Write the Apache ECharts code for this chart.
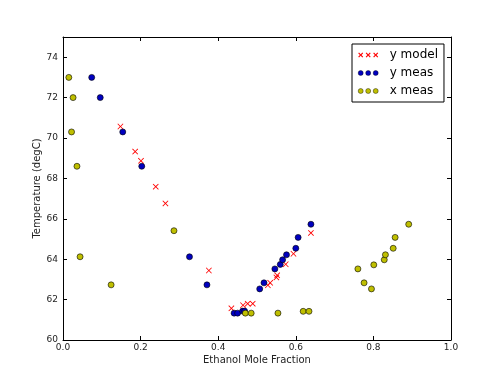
<!DOCTYPE html>
<html>
<head>
<meta charset="utf-8">
<script src="https://cdn.jsdelivr.net/npm/echarts@6/dist/echarts.min.js"></script>
<style>
  html, body { margin: 0; padding: 0; background: #fff; }
  #chart { width: 500px; height: 377px; }
</style>
</head>
<body>
<div id="chart"></div>
<script>
// ethanol mole fraction / temperature (degC)
var yModel = [
    [0.148, 70.57], [0.186, 69.33], [0.201, 68.87], [0.239, 67.59], [0.264, 66.76],
    [0.376, 63.44], [0.434, 61.57], [0.464, 61.72], [0.476, 61.80], [0.489, 61.80],
    [0.528, 62.71], [0.534, 62.83], [0.550, 63.10], [0.552, 63.20], [0.574, 63.75],
    [0.594, 64.27], [0.639, 65.30]
];
var yMeas = [
    [0.074, 73.0], [0.096, 72.0], [0.154, 70.3], [0.203, 68.6], [0.326, 64.12],
    [0.371, 62.73], [0.441, 61.33], [0.450, 61.33], [0.463, 61.43], [0.468, 61.43],
    [0.507, 62.53], [0.518, 62.83], [0.546, 63.52], [0.560, 63.74], [0.566, 63.97],
    [0.576, 64.22], [0.600, 64.54], [0.606, 65.08], [0.639, 65.73]
];
var xMeas = [
    [0.015, 73.0], [0.026, 72.0], [0.022, 70.3], [0.036, 68.6], [0.044, 64.12],
    [0.124, 62.73], [0.286, 65.41], [0.470, 61.33], [0.485, 61.33], [0.554, 61.33],
    [0.619, 61.42], [0.634, 61.42], [0.760, 63.52], [0.776, 62.83], [0.795, 62.53],
    [0.801, 63.72], [0.828, 63.97], [0.831, 64.22], [0.851, 64.54], [0.856, 65.08],
    [0.891, 65.73]
];
var xTicks = [0, 0.2, 0.4, 0.6, 0.8, 1.0];
var yTicks = [60, 62, 64, 66, 68, 70, 72, 74];

var crossPath = 'path://M0,1L1,0L5,4L9,0L10,1L6,5L10,9L9,10L5,6L1,10L0,9L4,5Z';
function crossAt(x) {
    return 'M' + x + ',1L' + (x + 1) + ',0L' + (x + 3) + ',2L' + (x + 5) + ',0L' + (x + 6) + ',1L' +
        (x + 4) + ',3L' + (x + 6) + ',5L' + (x + 5) + ',6L' + (x + 3) + ',4L' + (x + 1) + ',6L' +
        x + ',5L' + (x + 2) + ',3Z';
}
function circleAt(cx) {
    return 'M' + (cx - 3) + ',3a3,3 0 1,0 6,0a3,3 0 1,0 -6,0Z';
}
var crossIcon = 'path://' + crossAt(0) + crossAt(9) + crossAt(18);
var dotIcon = 'path://' + circleAt(3) + circleAt(12) + circleAt(21);

var myChart = echarts.init(document.getElementById('chart'));

var tickStyle = { show: true, inside: true, length: 4, lineStyle: { color: '#000', width: 1 } };
var lineStyle = { show: true, onZero: false, lineStyle: { color: '#000', width: 1 } };

option = {
    animation: false,
    backgroundColor: '#fff',
    grid: { left: 63, right: 49, top: 37, bottom: 37 },
    legend: {
        orient: 'vertical',
        left: 352,
        top: 44,
        padding: [5, 6, 5, 6],
        itemGap: 6,
        itemWidth: 21,
        itemHeight: 5,
        backgroundColor: '#fff',
        borderColor: '#000',
        borderWidth: 1,
        textStyle: { fontFamily: 'DejaVu Sans', fontSize: 12, color: '#000', padding: [0, 0, 0, 6] },
        data: [
            { name: 'y model', icon: crossIcon },
            { name: 'y meas', icon: dotIcon, itemStyle: { borderWidth: 0.4 } },
            { name: 'x meas', icon: dotIcon, itemStyle: { borderWidth: 0.4 } }
        ]
    },
    xAxis: [{
        type: 'value', min: 0, max: 1, interval: 0.2,
        name: 'Ethanol Mole Fraction', nameLocation: 'middle', nameGap: 15, nameMoveOverlap: false,
        nameTextStyle: { fontFamily: 'DejaVu Sans', fontSize: 10, color: '#222' },
        axisLine: lineStyle, axisTick: tickStyle, splitLine: { show: false },
        axisLabel: {
            fontFamily: 'DejaVu Sans', fontSize: 9, color: '#222', margin: 3,
            formatter: function (v) { return xTicks.indexOf(+v.toFixed(1)) >= 0 ? v.toFixed(1) : ''; }
        }
    }, {
        type: 'value', position: 'top', min: 0, max: 1, interval: 0.2,
        axisLine: lineStyle, axisTick: tickStyle, axisLabel: { show: false }, splitLine: { show: false }
    }],
    yAxis: [{
        type: 'value', min: 60, max: 75, interval: 2,
        name: 'Temperature (degC)', nameLocation: 'middle', nameGap: 21, nameMoveOverlap: false,
        nameTextStyle: { fontFamily: 'DejaVu Sans', fontSize: 10, color: '#222' },
        axisLine: lineStyle, axisTick: tickStyle, splitLine: { show: false },
        axisLabel: {
            fontFamily: 'DejaVu Sans', fontSize: 9, color: '#222', margin: 5, showMaxLabel: false,
            formatter: function (v) { return yTicks.indexOf(v) >= 0 ? String(v) : ''; }
        }
    }, {
        type: 'value', position: 'right', min: 60, max: 75, interval: 2,
        axisLine: lineStyle, axisTick: tickStyle, axisLabel: { show: false }, splitLine: { show: false }
    }],
    series: [
        {
            name: 'y model', type: 'scatter', data: yModel,
            symbol: crossPath, symbolSize: 6,
            itemStyle: { color: '#ff0000', opacity: 1 }
        },
        {
            name: 'y meas', type: 'scatter', data: yMeas,
            symbol: 'circle', symbolSize: 6,
            itemStyle: { color: '#0000bf', borderColor: '#000', borderWidth: 0.6, opacity: 1 }
        },
        {
            name: 'x meas', type: 'scatter', data: xMeas,
            symbol: 'circle', symbolSize: 6,
            itemStyle: { color: '#bfbf00', borderColor: '#000', borderWidth: 0.6, opacity: 1 }
        }
    ]
};
myChart.setOption(option);
</script>
</body>
</html>
